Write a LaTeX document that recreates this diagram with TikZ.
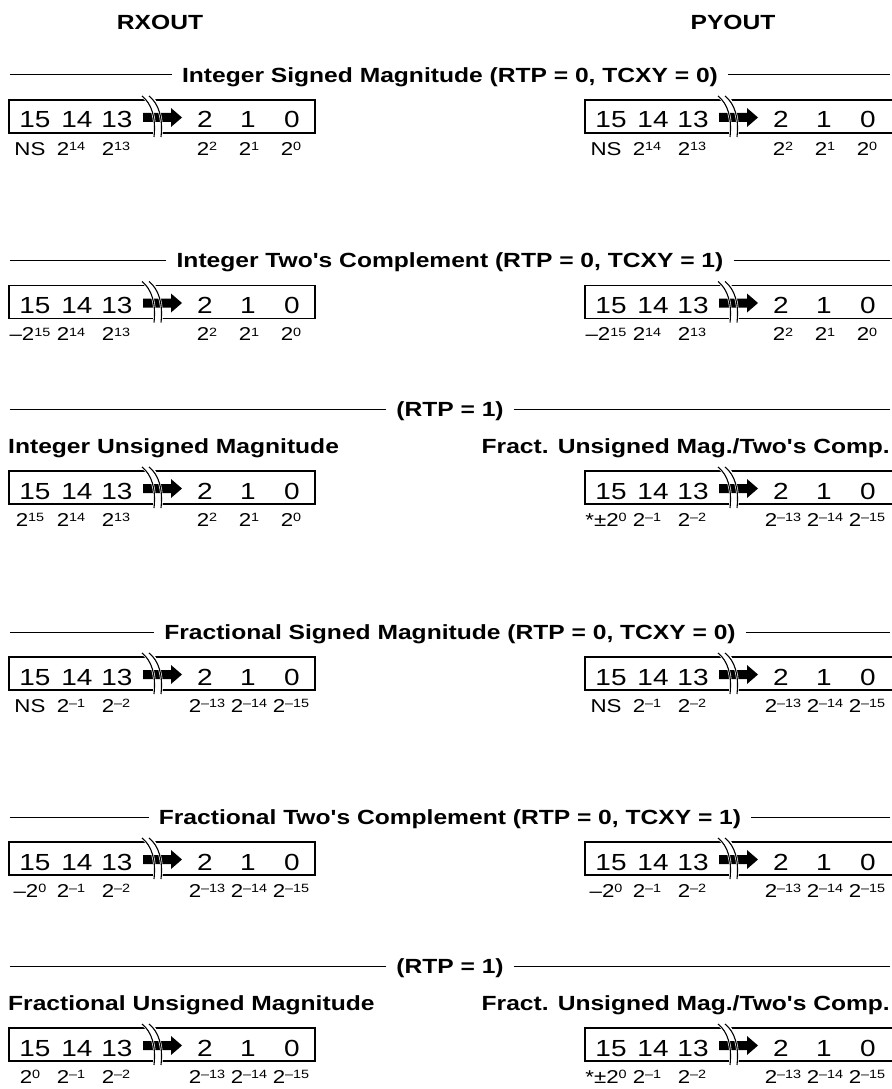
\documentclass[tikz,border=0pt]{standalone}
\usepackage{fontspec}
\setmainfont[FakeStretch=1.2,Ligatures=TeXOff]{Liberation Sans}
\newcommand{\tw}[1]{2\raisebox{4.5pt}{\fontsize{12}{12}\selectfont #1}}
% one register: name, x, y (top), width, weights
\newcommand{\dacreg}[5]{%
  \begin{scope}[shift={(#2,#3)}]
    \draw[regline] (0,0) rectangle (#4,33);
    \draw[white,line width=8pt] (137,-6) .. controls (147,4) and (151,18) .. (149,40);
    \fill (134,13) -- (162,13) -- (162,8) -- (173,17.5) -- (162,27) -- (162,22) -- (134,22) -- cycle;
    \foreach \dx in {0,7}{
      \draw[white,line width=2.4pt,xshift=\dx] (133,-4) .. controls (143,4) and (147,18) .. (145,37);
      \draw[breakline,xshift=\dx] (133,-4) .. controls (143,4) and (147,18) .. (145,37);
    }
    \foreach \d/\cx in {15/26,14/68,13/108,2/196,1/239,0/283}
      \node[digit] (#1d\d) at (\cx,28) {\d};
    \foreach \lt [count=\i] in {#5}{
      \pgfmathsetmacro\lx{{21,62,107,198,240,282}[\i-1]}
      \node[lbl] (#1l\i) at (\lx,55) {\lt};
    }
  \end{scope}}
\begin{document}
\begin{tikzpicture}[x=1pt,y=-1pt,
    regline/.style={line width=1.3pt},
    breakline/.style={line width=1.1pt},
    rule/.style={line width=1pt},
    digit/.style={font=\fontsize{23.3}{24}\selectfont,anchor=base,inner sep=0pt},
    lbl/.style={font=\fontsize{18.6}{20}\selectfont,anchor=base,inner sep=0pt},
    ttl/.style={font=\fontsize{20.5}{22}\selectfont\bfseries,inner xsep=10pt,inner ysep=0pt,
      text height=14.7pt,text depth=0pt},
    sub/.style={font=\fontsize{20.5}{22}\selectfont\bfseries,inner sep=0pt,
      text height=14.7pt,text depth=0pt}]
    \useasboundingbox (0,0) rectangle (891,1089);
    \node[ttl] (rx) at (160,22) {RXOUT};
    \node[ttl] (py) at (733,22) {PYOUT};

    % section titles
    \foreach \n/\ty/\tt in {1/75/{Integer Signed Magnitude (RTP = 0, TCXY = 0)},
        2/260/{Integer Two's Complement (RTP = 0, TCXY = 1)},
        3/409/{(RTP = 1)},
        4/632/{Fractional Signed Magnitude (RTP = 0, TCXY = 0)},
        5/817/{Fractional Two's Complement (RTP = 0, TCXY = 1)},
        6/966/{(RTP = 1)}}{
      \node[ttl] (t\n) at (450,\ty) {\tt};
      \coordinate (t\n a) at (10,\ty);
      \coordinate (t\n b) at (890,\ty);
      \draw[rule] (t\n a) -- (t\n.west);
      \draw[rule] (t\n.east) -- (t\n b);
    }
    \node[sub,anchor=west] (s3l) at (8,446) {Integer Unsigned Magnitude};
    \node[sub,anchor=east] (s3r) at (890,446) {Fract. Unsigned Mag./Two's Comp.};
    \node[sub,anchor=west] (s6l) at (8,1003) {Fractional Unsigned Magnitude};
    \node[sub,anchor=east] (s6r) at (890,1003) {Fract. Unsigned Mag./Two's Comp.};

    % registers
    \dacreg{ra}{9}{100}{306}{NS,\tw{14},\tw{13},\tw{2},\tw{1},\tw{0}}
    \dacreg{pa}{585}{100}{320}{NS,\tw{14},\tw{13},\tw{2},\tw{1},\tw{0}}
    \dacreg{rb}{9}{285.5}{306}{–\tw{15},\tw{14},\tw{13},\tw{2},\tw{1},\tw{0}}
    \dacreg{pb}{585}{285.5}{320}{–\tw{15},\tw{14},\tw{13},\tw{2},\tw{1},\tw{0}}
    \dacreg{rc}{9}{471}{306}{\tw{15},\tw{14},\tw{13},\tw{2},\tw{1},\tw{0}}
    \dacreg{pc}{585}{471}{320}{*±\tw{0},\tw{–1},\tw{–2},\tw{–13},\tw{–14},\tw{–15}}
    \dacreg{rd}{9}{657}{306}{NS,\tw{–1},\tw{–2},\tw{–13},\tw{–14},\tw{–15}}
    \dacreg{pd}{585}{657}{320}{NS,\tw{–1},\tw{–2},\tw{–13},\tw{–14},\tw{–15}}
    \dacreg{re}{9}{842}{306}{–\tw{0},\tw{–1},\tw{–2},\tw{–13},\tw{–14},\tw{–15}}
    \dacreg{pe}{585}{842}{320}{–\tw{0},\tw{–1},\tw{–2},\tw{–13},\tw{–14},\tw{–15}}
    \dacreg{rf}{9}{1028}{306}{\tw{0},\tw{–1},\tw{–2},\tw{–13},\tw{–14},\tw{–15}}
    \dacreg{pf}{585}{1028}{320}{*±\tw{0},\tw{–1},\tw{–2},\tw{–13},\tw{–14},\tw{–15}}
\end{tikzpicture}
\end{document}
